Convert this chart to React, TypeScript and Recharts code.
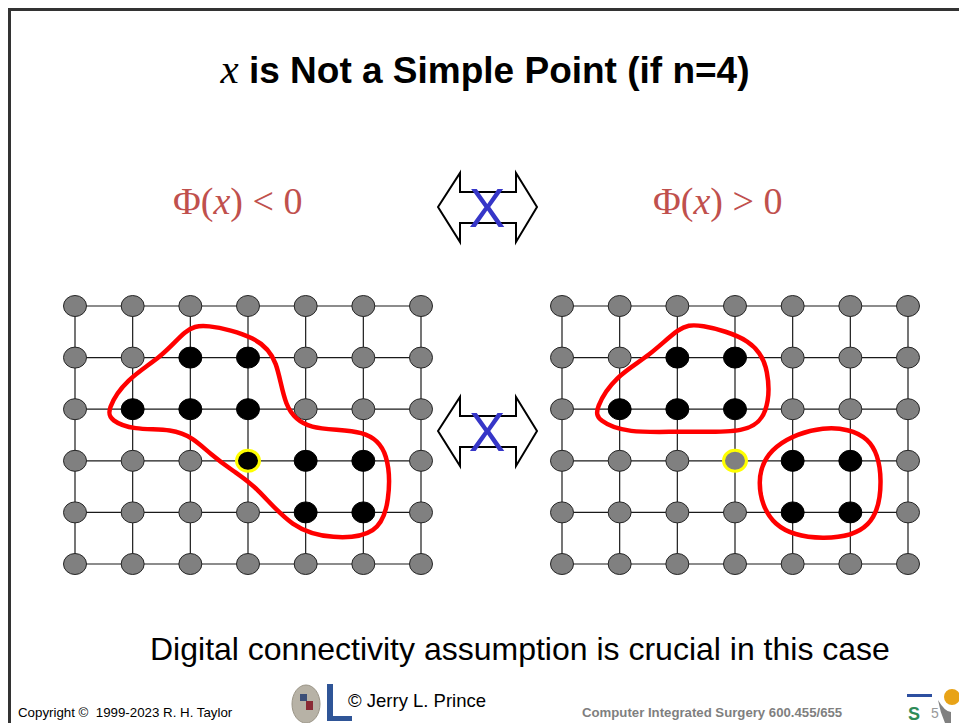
import React from "react";
import { ScatterChart, Scatter, XAxis, YAxis, ReferenceLine } from "recharts";

// lattice: 7 columns x 6 rows (row 0 at the top)
const columns = [0, 1, 2, 3, 4, 5, 6];
const rows = [0, 1, 2, 3, 4, 5];

// object (black) pixels, same in both pictures
const objectPixels = [
  [2, 1], [3, 1],
  [1, 2], [2, 2], [3, 2],
  [4, 3], [5, 3],
  [4, 4], [5, 4],
];

// the point x under test
const testPoint = [3, 3];

// red outlines, in lattice units
const leftLoop = [
  [0.55, 2.02], [0.88, 1.42], [1.52, 0.98], [1.92, 0.45], [2.22, 0.33],
  [3.18, 0.6], [3.52, 1.05], [3.62, 1.96], [4.0, 2.42], [5.08, 2.38],
  [5.45, 2.85], [5.46, 3.78], [5.26, 4.44], [4.47, 4.52], [3.76, 4.32],
  [3.15, 3.5], [2.74, 3.2], [2.34, 2.86], [2.05, 2.56], [1.7, 2.38],
  [1.0, 2.4], [0.62, 2.22],
];
const rightLoopA = [
  [0.57, 2.0], [0.92, 1.36], [1.52, 0.97], [2.04, 0.4], [2.34, 0.33],
  [3.33, 0.64], [3.6, 1.24], [3.58, 2.1], [3.22, 2.47], [2.1, 2.42],
  [1.12, 2.47], [0.62, 2.22],
];
const rightLoopB = [
  [3.34, 3.37], [3.62, 2.68], [4.53, 2.28], [5.4, 2.48], [5.58, 3.37],
  [5.42, 4.36], [4.53, 4.56], [3.6, 4.34],
];

const titleText = "is Not a Simple Point (if n=4)";
const bottomText = "Digital connectivity assumption is crucial in this case";

type Pt = { col: number; row: number };

const isObject = (c: number, r: number) =>
  objectPixels.some(([pc, pr]) => pc === c && pr === r);
const isTest = (c: number, r: number) => c === testPoint[0] && r === testPoint[1];

const lattice: Pt[] = [];
columns.forEach((c) => rows.forEach((r) => lattice.push({ col: c, row: r })));

const background = lattice.filter((p) => !isObject(p.col, p.row) && !isTest(p.col, p.row));
const foreground = lattice.filter((p) => isObject(p.col, p.row));
const testData = [{ col: testPoint[0], row: testPoint[1] }];
const toPts = (arr: number[][]): Pt[] => arr.map(([col, row]) => ({ col, row }));

const dot = (fill: string, stroke: string, sw: number) => (props: any) => (
  <ellipse cx={props.cx} cy={props.cy} rx={11.5} ry={10.5} fill={fill} stroke={stroke} strokeWidth={sw} />
);
const noDot = () => <g />;

const Lattice = ({ loops, testFilled }: { loops: number[][][]; testFilled: boolean }) => (
  <ScatterChart width={406} height={310} margin={{ top: 26, right: 30, bottom: 26, left: 30 }}>
    <XAxis type="number" dataKey="col" domain={[0, 6]} hide />
    <YAxis type="number" dataKey="row" domain={[0, 5]} reversed hide />
    {rows.map((r) => (
      <ReferenceLine key={"h" + r} y={r} stroke="#1a1a1a" strokeWidth={1.2} />
    ))}
    {columns.map((c) => (
      <ReferenceLine key={"v" + c} x={c} stroke="#1a1a1a" strokeWidth={1.2} />
    ))}
    <Scatter data={background} shape={dot("#808080", "#262626", 1)} isAnimationActive={false} />
    <Scatter data={foreground} shape={dot("#000000", "#000000", 1)} isAnimationActive={false} />
    <Scatter
      data={testData}
      shape={dot(testFilled ? "#000000" : "#808080", "#ffff00", 3)}
      isAnimationActive={false}
    />
    {loops.map((l, i) => (
      <Scatter
        key={i}
        data={toPts(l)}
        line={{ stroke: "#ff0000", strokeWidth: 4.5, fill: "none" }}
        lineJointType="basisClosed"
        shape={noDot}
        isAnimationActive={false}
      />
    ))}
  </ScatterChart>
);

const Arrow = ({ x, y }: { x: number; y: number }) => (
  <g transform={`translate(${x},${y})`}>
    <polygon
      points="0,34 22,0 22,19 78,19 78,0 99,34 78,69 78,50 22,50 22,69"
      fill="#fff"
      stroke="#000"
      strokeWidth={2}
    />
    <text x={49} y={54} textAnchor="middle" fontFamily="Liberation Sans" fontSize={55} fill="#3636c8">
      X
    </text>
  </g>
);

const App: React.FC = () => {
  const serif = "Liberation Serif";
  const sans = "Liberation Sans";
  return (
    <div style={{ position: "fixed", left: 0, top: 0, width: 959, height: 723, overflow: "hidden", background: "#fff" }}>
      <svg width={959} height={723} style={{ position: "absolute", left: 0, top: 0 }}>
        <path d="M9.5 723 V9.5 H959" fill="none" stroke="#333" strokeWidth={3} />
        <text x={485} y={83} textAnchor="middle" fontFamily={sans} fontSize={37} fontWeight="bold" fill="#000">
          <tspan fontFamily={serif} fontStyle="italic" fontWeight="normal" fontSize={41}>x</tspan>
          <tspan> {titleText}</tspan>
        </text>
        <text x={173} y={214} fontFamily={serif} fontSize={38} fill="#c0504d">
          Φ(<tspan fontStyle="italic">x</tspan>) {"<"} 0
        </text>
        <text x={653} y={214} fontFamily={serif} fontSize={38} fill="#c0504d">
          Φ(<tspan fontStyle="italic">x</tspan>) {">"} 0
        </text>
        <Arrow x={438} y={173} />
        <Arrow x={438} y={397} />
        <text x={150} y={660} fontFamily={sans} fontSize={32} fill="#000">
          {bottomText}
        </text>
        <text x={18} y={717} fontFamily={sans} fontSize={13.3} fill="#000" xmlSpace="preserve">
          Copyright ©  1999-2023 R. H. Taylor
        </text>
        <ellipse cx={306} cy={704} rx={14} ry={19} fill="#b7b2a6" stroke="#9a9486" />
        <rect x={300} y={694} width={7} height={7} fill="#3c4f78" />
        <rect x={306} y={701} width={7} height={9} fill="#8a2a35" />
        <rect x={327} y={684} width={6} height={36} fill="#2f5597" />
        <rect x={327} y={716} width={25} height={5} fill="#2f5597" />
        <text x={348} y={707} fontFamily={sans} fontSize={18.5} fill="#000">
          © Jerry L. Prince
        </text>
        <text x={582} y={717} fontFamily={sans} fontSize={13.2} fontWeight="bold" fill="#7f7f7f">
          Computer Integrated Surgery 600.455/655
        </text>
        <rect x={907} y={694} width={25} height={3} fill="#2d4fa0" />
        <text x={908} y={720} fontFamily={sans} fontSize={18} fontWeight="bold" fill="#2e8b57">
          S
        </text>
        <text x={931} y={718} fontFamily={sans} fontSize={14} fill="#999">
          5
        </text>
        <circle cx={952} cy={697} r={8} fill="#e8a317" />
        <path d="M938 700 Q945 712 951 712 L951 723 L945 723 Q940 712 938 700 Z" fill="#808080" />
      </svg>
      <div style={{ position: "absolute", left: 45, top: 280 }}>
        <Lattice loops={[leftLoop]} testFilled={true} />
      </div>
      <div style={{ position: "absolute", left: 532, top: 280 }}>
        <Lattice loops={[rightLoopA, rightLoopB]} testFilled={false} />
      </div>
    </div>
  );
};

export default App;
